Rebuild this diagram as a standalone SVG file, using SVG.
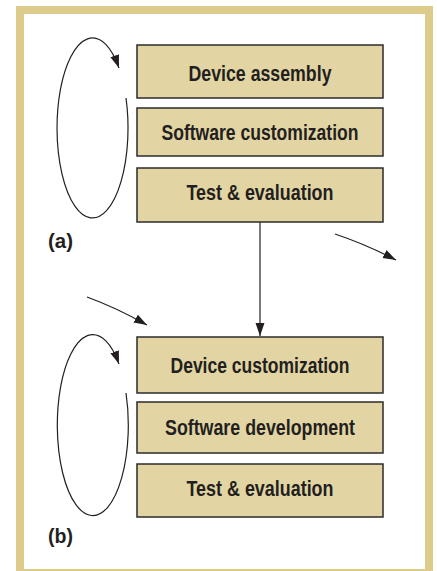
<svg xmlns="http://www.w3.org/2000/svg" width="437" height="571" viewBox="0 0 437 571">
<style>
.frame{fill:#dccb8b}
.box{fill:#e2d5a3;stroke:#2b2b2b;stroke-width:1.5}
.lbl{font-family:"Liberation Sans",Arial,sans-serif;font-weight:bold;font-size:22.5px;fill:#231f20;text-anchor:middle}
.tag{font-family:"Liberation Sans",Arial,sans-serif;font-weight:bold;font-size:21px;fill:#231f20}
.conn{fill:none;stroke:#231f20;stroke-width:1.2}
</style>
<defs>
<marker id="ah" markerUnits="userSpaceOnUse" markerWidth="14" markerHeight="10" refX="13" refY="4.5" orient="auto">
<path d="M0,0 L13,4.5 L0,9 z" fill="#231f20"/>
</marker>
</defs>
<rect x="0" y="0" width="437" height="571" fill="#ffffff"/>
<g id="frame">
<rect class="frame" x="16" y="6" width="417" height="8"/>
<rect class="frame" x="16" y="6" width="8" height="565"/>
<rect class="frame" x="425" y="6" width="8" height="565"/>
<rect class="frame" x="16" y="569" width="417" height="2"/>
</g>
<g id="connectors">
<path class="conn" d="M126,98 A35.5,90 0 1 1 119,68" marker-end="url(#ah)"/>
<path class="conn" d="M126,393 A35.5,90.5 0 1 1 119,364" marker-end="url(#ah)"/>
<path class="conn" d="M260,222 L260,336" marker-end="url(#ah)"/>
<path class="conn" d="M335,234 Q365,244 396,260" marker-end="url(#ah)"/>
<path class="conn" d="M87,297 Q117,308 147,325" marker-end="url(#ah)"/>
</g>
<g id="a-device-assembly">
<rect class="box" x="137" y="45" width="246" height="53"/>
<text class="lbl" x="260" y="80.5" textLength="143" lengthAdjust="spacingAndGlyphs">Device assembly</text>
</g>
<g id="a-software-customization">
<rect class="box" x="137" y="108" width="246" height="48"/>
<text class="lbl" x="260" y="140" textLength="197" lengthAdjust="spacingAndGlyphs">Software customization</text>
</g>
<g id="a-test-evaluation">
<rect class="box" x="137" y="168" width="246" height="54"/>
<text class="lbl" x="260" y="200" textLength="147" lengthAdjust="spacingAndGlyphs">Test &amp; evaluation</text>
</g>
<g id="b-device-customization">
<rect class="box" x="137" y="337" width="246" height="56"/>
<text class="lbl" x="260" y="373" textLength="179" lengthAdjust="spacingAndGlyphs">Device customization</text>
</g>
<g id="b-software-development">
<rect class="box" x="137" y="402" width="246" height="51"/>
<text class="lbl" x="260" y="435" textLength="190" lengthAdjust="spacingAndGlyphs">Software development</text>
</g>
<g id="b-test-evaluation">
<rect class="box" x="137" y="464" width="246" height="53"/>
<text class="lbl" x="260" y="496" textLength="147" lengthAdjust="spacingAndGlyphs">Test &amp; evaluation</text>
</g>
<g id="label-a"><text class="tag" x="48" y="248" textLength="25" lengthAdjust="spacingAndGlyphs">(a)</text></g>
<g id="label-b"><text class="tag" x="48" y="543" textLength="25" lengthAdjust="spacingAndGlyphs">(b)</text></g>
</svg>
